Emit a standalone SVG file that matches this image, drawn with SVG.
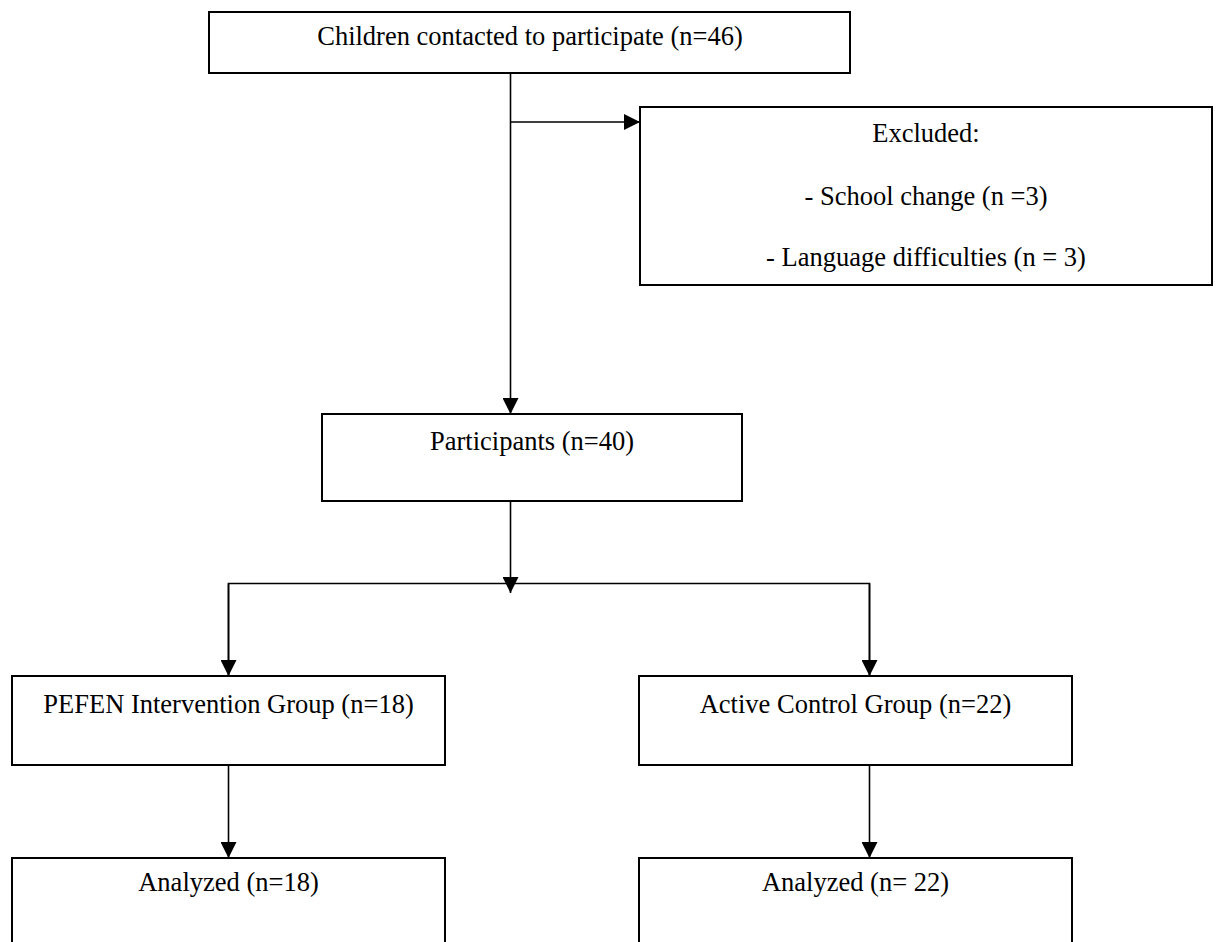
<svg xmlns="http://www.w3.org/2000/svg" width="1221" height="942" viewBox="0 0 1221 942">
<defs>
<style>
.box{fill:#fff;stroke:#000;stroke-width:2}
.t{font-family:"Liberation Serif","Times New Roman",serif;font-size:26.5px;fill:#000;text-anchor:middle}
.c{fill:none;stroke:#000;stroke-width:1.6}
</style>
<marker id="ah" markerUnits="userSpaceOnUse" markerWidth="16" markerHeight="16" viewBox="0 0 16 16" refX="16" refY="8" orient="auto">
<path d="M0,0 L16,8 L0,16 Z" fill="#000"/>
</marker>
</defs>
<rect width="1221" height="942" fill="#fff"/>
<g id="connectors">
<line class="c" x1="510.5" y1="69" x2="510.5" y2="414" marker-end="url(#ah)"/>
<line class="c" x1="510.5" y1="122" x2="640" y2="122" marker-end="url(#ah)"/>
<line class="c" x1="510.5" y1="501" x2="510.5" y2="593" marker-end="url(#ah)"/>
<polyline class="c" points="228.5,676 228.5,583.5 869.5,583.5 869.5,676" />
<line class="c" x1="228.5" y1="583.5" x2="228.5" y2="676" marker-end="url(#ah)"/>
<line class="c" x1="869.5" y1="583.5" x2="869.5" y2="676" marker-end="url(#ah)"/>
<line class="c" x1="228.5" y1="765" x2="228.5" y2="858" marker-end="url(#ah)"/>
<line class="c" x1="869.5" y1="765" x2="869.5" y2="858" marker-end="url(#ah)"/>
</g>
<g id="contacted">
<rect class="box" x="209" y="12" width="641" height="61"/>
<text class="t" x="530" y="45">Children contacted to participate (n=46)</text>
</g>
<g id="excluded">
<rect class="box" x="640" y="107" width="572" height="178"/>
<text class="t" x="926" y="142">Excluded:</text>
<text class="t" x="926" y="205">- School change (n =3)</text>
<text class="t" x="926" y="266">- Language difficulties (n = 3)</text>
</g>
<g id="participants">
<rect class="box" x="322" y="414" width="420" height="87"/>
<text class="t" x="532" y="450">Participants (n=40)</text>
</g>
<g id="pefen">
<rect class="box" x="12" y="676" width="433" height="89"/>
<text class="t" x="228.5" y="713">PEFEN Intervention Group (n=18)</text>
</g>
<g id="active">
<rect class="box" x="639" y="676" width="433" height="89"/>
<text class="t" x="855.5" y="713">Active Control Group (n=22)</text>
</g>
<g id="analyzed-left">
<rect class="box" x="12" y="858" width="433" height="95"/>
<text class="t" x="228.5" y="891">Analyzed (n=18)</text>
</g>
<g id="analyzed-right">
<rect class="box" x="639" y="858" width="433" height="95"/>
<text class="t" x="855.5" y="891">Analyzed (n= 22)</text>
</g>
</svg>
